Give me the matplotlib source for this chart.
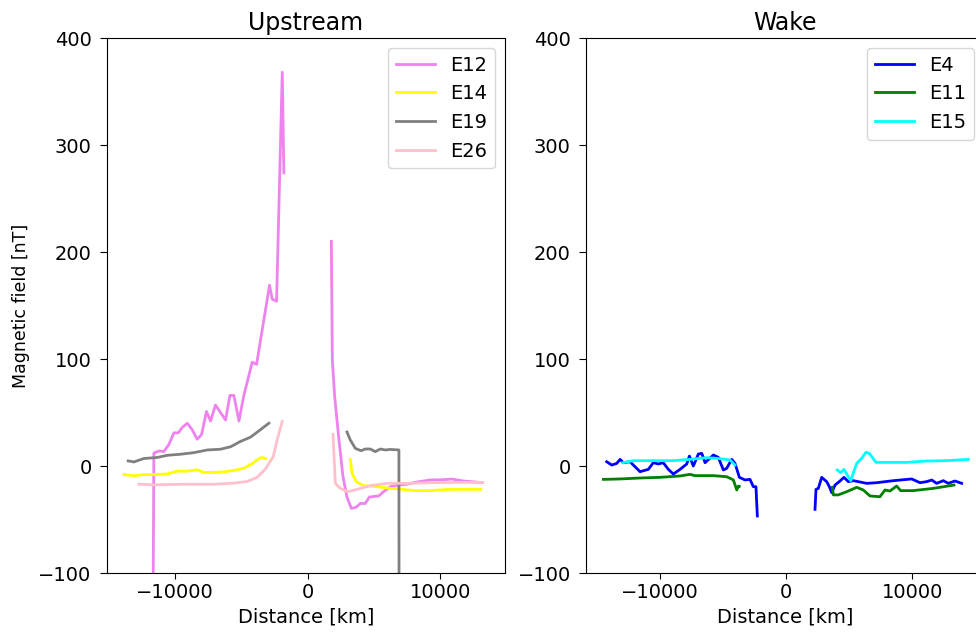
import numpy as np
import matplotlib
matplotlib.use("Agg")
import matplotlib.pyplot as plt

nan = np.nan

# Upstream flybys (inbound branch, nan gap, outbound branch)
e12_x = [-11700, -11610, -11230, -10860, -10480, -10100, -9770, -9470, -9090, -8720,
         -8340, -8010, -7640, -7330, -6960, -6200, -5870, -5570, -5190, -4820,
         -4190, -3860, -2880, -2680, -2350, -1920, -1800, nan,
         1784, 1860, 2035, 2337, 2664, 2965, 3292, 3644, 3970, 4347, 4649, 5353,
         5730, 6232, 6735, 7489, 8243, 9248, 10253, 10881, 11760, 13143]
e12_y = [-200, 12, 14, 13.5, 20, 31, 31, 36, 40, 34,
         25, 29.5, 51, 42, 57, 43, 66, 66, 42, 66,
         97, 95, 169, 156, 154, 368, 274, nan,
         210, 99, 65, 27, -10, -29, -39.6, -38.6, -35, -35, -29, -28,
         -24, -19.3, -18, -17, -15, -13, -12.8, -12.2, -14, -15.5]

e14_x = [-13880, -13120, -12370, -11610, -10600, -9850, -9090, -8340, -7840, -7080,
         -6330, -5570, -4820, -4190, -3680, -3430, -3180, nan,
         3217, 3342, 3669, 4222, 5227, 6232, 6986, 7992, 9248, 10756, 12264, 13068]
e14_y = [-8, -9, -8, -8, -7.4, -4.8, -4.8, -3.5, -6, -6,
         -5.4, -4.2, -2, 2.2, 7, 8, 7, nan,
         6.2, -6.9, -14.6, -18.4, -19.3, -20.9, -21.5, -23, -23, -21.8, -21.8, -21.8]

e19_x = [-13550, -13120, -12370, -11360, -10600, -9600, -8590, -7580, -6580, -5820,
         -5070, -4310, -3560, -2930, nan,
         2965, 3217, 3594, 4021, 4347, 4724, 5101, 5478, 5855, 6232, 6885, 6900]
e19_y = [4.8, 3.8, 7, 8, 10, 11, 12.5, 15, 15.7, 18,
         23, 27, 34, 40, nan,
         31.8, 24.3, 16.5, 14.3, 15.9, 15.9, 13.4, 15.9, 15, 15.5, 15, -200]

e26_x = [-12740, -11610, -9350, -7080, -5570, -4560, -3810, -3180, -2600, -2300, -1920, nan,
         1910, 2086, 2463, 3016, 3719, 4724, 5981, 7489, 9248, 11258, 13218]
e26_y = [-17, -17.6, -17, -17, -16, -14.4, -10.6, -2.6, 8.7, 24.7, 41.7, nan,
         29.6, -16.2, -20.9, -24, -21.8, -18.4, -16.2, -16.2, -15.6, -15.3, -15.3]

# Wake flybys
e4_x = [-14200, -13800, -13400, -13140, -12880, -12350, -11960, -11560, -10900, -10510,
        -10110, -9720, -9320, -8920, -8390, -7860, -7650, -7340, -6940, -6670,
        -6410, -5750, -5360, -4960, -4700, -4300, -4040, -3690, -3250, -2850,
        -2590, -2380, -2270, nan,
        2296, 2375, 2560, 2825, 3220, 3430, 3617, 3880, 4275, 4590, 4935, 5330,
        6390, 7180, 8500, 9950, 10610, 11140, 11540, 11930, 12460, 12850, 13380, 13910]
e4_y = [4, 0.9, 2.5, 6.2, 3.1, 4, -0.6, -5.3, -3.1, 3.1,
        1.9, 3.1, -3.1, -7.5, -3.1, 1.9, 9.3, 0, 11.2, 11.8,
        3.1, 10.3, 8.1, -3.7, -2.2, 6.2, 2.5, -10.6, -13, -12.5,
        -19.3, -19.3, -46.7, nan,
        -40.5, -21.8, -20.9, -10.6, -14.6, -19.3, -24.9, -17.8, -14, -10.6, -14.6, -13.7,
        -16.2, -15.6, -13.7, -12.1, -15.6, -14.6, -13.1, -16.2, -13.7, -16.2, -14, -16.2]

e11_x = [-14460, -13140, -11560, -9980, -8390, -7600, -7210, -5750, -4700, -4170,
         -3900, -3770, -3700, nan,
         3670, 3750, 4140, 4810, 5600, 6120, 6650, 7440, 7840, 8230, 8760, 9080,
         10080, 11660, 13300]
e11_y = [-12.5, -12.1, -11.2, -10.6, -9.3, -7.8, -9, -9, -10, -13,
         -22.4, -18.7, -19, nan,
         -19.9, -27, -27, -24, -19.9, -22.4, -28, -28.7, -22.4, -23.4, -18.7, -23,
         -23, -20.9, -17.8]

e15_x = [-12930, -12090, -10510, -8920, -7600, -6280, -5230, -4430, -4040, nan,
         4065, 4330, 4590, 5120, 5600, 5990, 6330, 6600, 7130, 7970, 9560, 11140,
         12720, 14440]
e15_y = [3.1, 5, 5, 5, 6.2, 7.8, 6.9, 5.6, 0.9, nan,
         -3.7, -6.2, -3.1, -13.7, 2.5, 7.2, 12.8, 11.8, 3.4, 3.4, 3.4, 4.7,
         5, 6.2]

plt.rcParams['font.size'] = 14
plt.rcParams['axes.titlesize'] = 17
plt.rcParams['lines.linewidth'] = 2
plt.rcParams['xtick.major.size'] = 4
plt.rcParams['ytick.major.size'] = 5
plt.rcParams['ytick.major.pad'] = 6

fig = plt.figure(figsize=(9.76, 6.34), dpi=100)
ax1 = fig.add_axes([0.1096, 0.0962, 0.4078, 0.8438])
ax2 = fig.add_axes([0.6004, 0.0962, 0.4078, 0.8438])

ax1.plot(e12_x, e12_y, color='violet', label='E12')
ax1.plot(e14_x, e14_y, color='yellow', label='E14')
ax1.plot(e19_x, e19_y, color='gray', label='E19')
ax1.plot(e26_x, e26_y, color='pink', label='E26')
ax1.set_xlim(-15150, 14890)
ax1.set_ylim(-100, 400)
ax1.set_title('Upstream')
ax1.set_xlabel('Distance [km]')
ax1.set_ylabel('Magnetic field [nT]', fontsize=12.5, labelpad=6)
ax1.legend(loc='upper right')

ax2.plot(e4_x, e4_y, color='blue', label='E4')
ax2.plot(e11_x, e11_y, color='green', label='E11')
ax2.plot(e15_x, e15_y, color='cyan', label='E15')
ax2.set_xlim(-15840, 15680)
ax2.set_ylim(-100, 400)
ax2.set_title('Wake')
ax2.set_xlabel('Distance [km]')
ax2.legend(loc='upper right')

for ax in (ax1, ax2):
    ax.set_xticks([-10000, 0, 10000])
    ax.set_yticks([-100, 0, 100, 200, 300, 400])

fig.savefig('out.png', dpi=100)
